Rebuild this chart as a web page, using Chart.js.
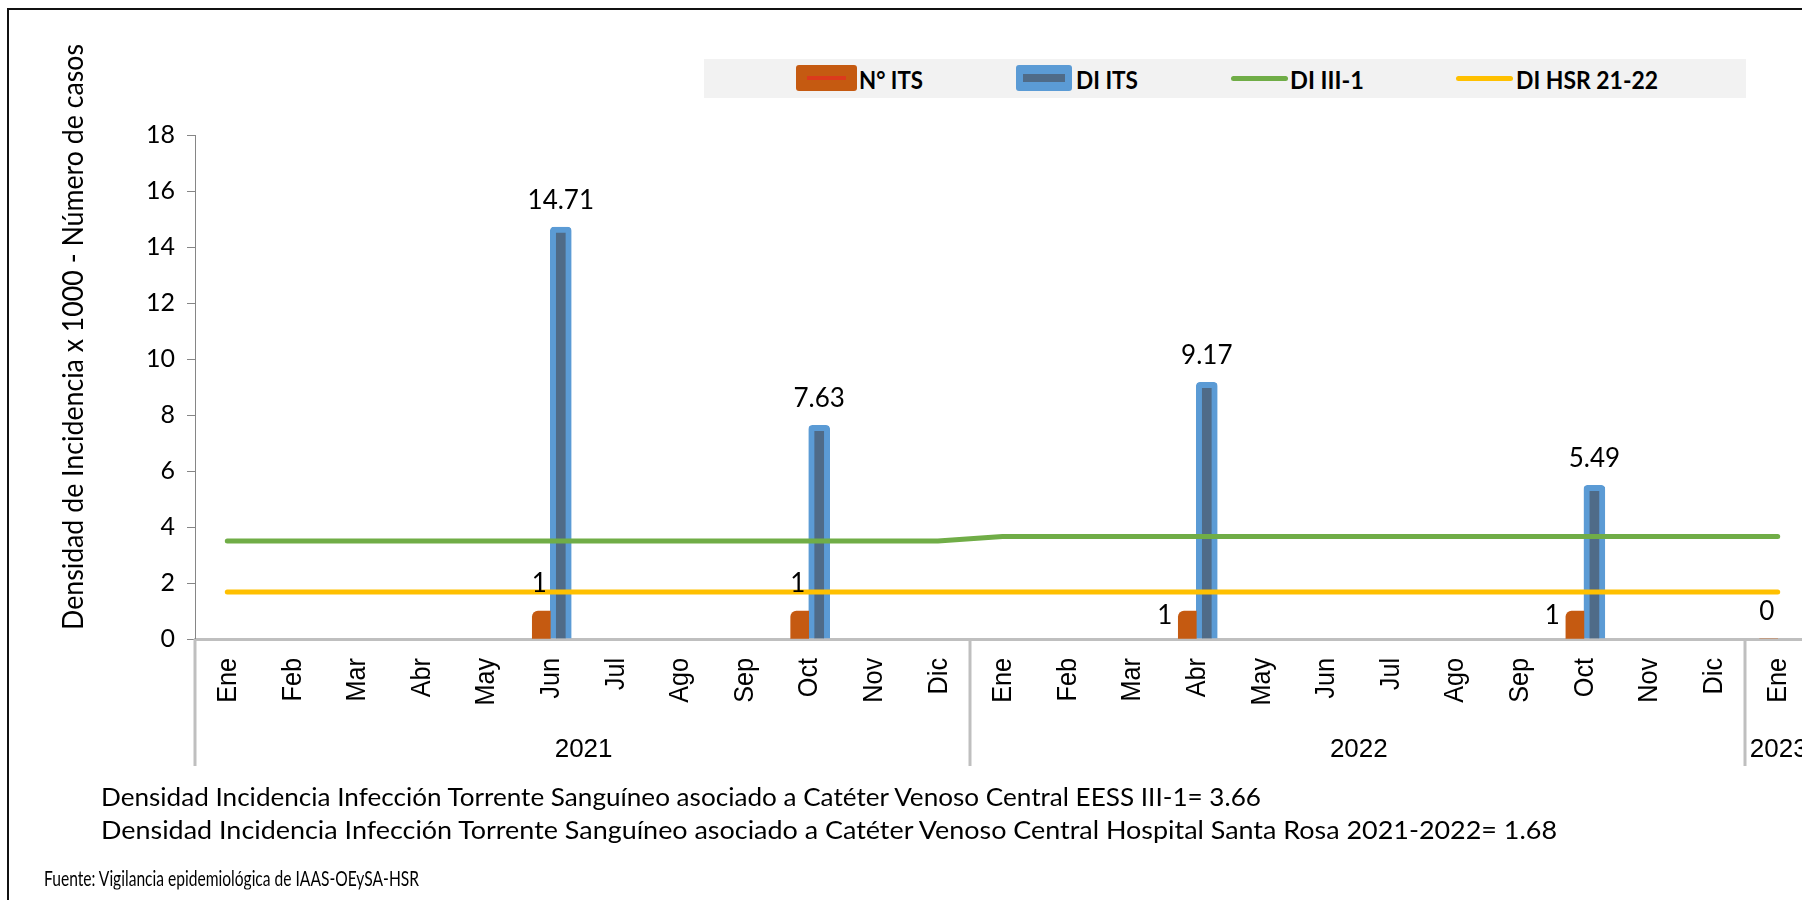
<!DOCTYPE html>
<html>
<head>
<meta charset="utf-8">
<script src="https://cdn.jsdelivr.net/npm/chart.js@4.4.1/dist/chart.umd.min.js"></script>
<style>
html,body{margin:0;padding:0;width:1802px;height:900px;overflow:hidden;background:#fff;}
#wrap{position:relative;width:1802px;height:900px;overflow:hidden;background:#fff;}
#c{position:absolute;left:0;top:0;}
#frame{position:absolute;left:7px;top:8px;width:2000px;height:2000px;border-left:2px solid #111;border-top:2px solid #111;box-sizing:border-box;pointer-events:none;}
#legend{position:absolute;left:704px;top:59px;width:1042px;height:39px;background:#f2f2f2;}
.lg-text{position:absolute;top:50%;font-family:Lato,sans-serif;font-weight:bold;font-size:25px;color:#000;white-space:nowrap;line-height:1;transform-origin:left center;}
.lg-mark{position:absolute;}
.note{position:absolute;font-family:Lato,sans-serif;color:#000;white-space:nowrap;line-height:1;transform-origin:left center;}
</style>
</head>
<body>
<div id="wrap">
  <canvas id="c" width="1830" height="900" style="width:1830px;height:900px"></canvas>
  <div id="frame"></div>
  <div id="legend"></div>
  <div class="note" id="n1" style="left:101px;top:797px;font-size:25.5px"></div>
  <div class="note" id="n2" style="left:101px;top:830px;font-size:25.5px"></div>
  <div class="note" id="n3" style="left:44px;top:877px;font-size:21px"></div>
</div>
<script>
// ---- data ----
const months = ['Ene','Feb','Mar','Abr','May','Jun','Jul','Ago','Sep','Oct','Nov','Dic',
                'Ene','Feb','Mar','Abr','May','Jun','Jul','Ago','Sep','Oct','Nov','Dic',
                'Ene'];
const years = ['2021','2022','2023'];
const monthsPerYear = [12, 12, 1];
const nITS  = [null,null,null,null,null,1,null,null,null,1,null,null,
               null,null,null,1,null,null,null,null,null,1,null,null,
               0];
const diITS = [null,null,null,null,null,14.71,null,null,null,7.63,null,null,
               null,null,null,9.17,null,null,null,null,null,5.49,null,null,
               null];
const diIII1 = [3.5,3.5,3.5,3.5,3.5,3.5,3.5,3.5,3.5,3.5,3.5,3.5,
                3.66,3.66,3.66,3.66,3.66,3.66,3.66,3.66,3.66,3.66,3.66,3.66,
                3.66];
const diHSR = [1.68,1.68,1.68,1.68,1.68,1.68,1.68,1.68,1.68,1.68,1.68,1.68,
               1.68,1.68,1.68,1.68,1.68,1.68,1.68,1.68,1.68,1.68,1.68,1.68,
               1.68];
const yTicksMin = 0, yTicksMax = 18, yTicksStep = 2;
const seriesNames = ['N° ITS', 'DI ITS', 'DI III-1', 'DI HSR 21-22'];
const yTitle = 'Densidad de Incidencia x 1000 - Número de casos';
const notes = [
  'Densidad Incidencia Infección Torrente Sanguíneo asociado a Catéter Venoso Central EESS III-1= 3.66',
  'Densidad Incidencia Infección Torrente Sanguíneo asociado a Catéter Venoso Central Hospital Santa Rosa 2021-2022= 1.68',
  'Fuente: Vigilancia epidemiológica de IAAS-OEySA-HSR'
];

// ---- styles ----
const C_ORANGE = '#c55a11', C_BLUE = '#5b9bd5', C_BLUE_IN = '#4f6b88', C_GREEN = '#70ad47', C_YELLOW = '#ffc000';
const countLabelSide = {15: 'left', 21: 'left'}; // default: above

// horizontally condense text to a target width (Calibri-like proportions)
function fitWidth(el, target) {
  const w = el.getBoundingClientRect().width;
  if (w > 0) el.style.transform = 'translateY(-50%) scaleX(' + (target / w).toFixed(4) + ')';
}

// ---- notes ----
['n1','n2','n3'].forEach((id, i) => { document.getElementById(id).textContent = notes[i]; });
const noteTargets = {n1: 1160, n2: 1456, n3: 375};
Object.keys(noteTargets).forEach(id => fitWidth(document.getElementById(id), noteTargets[id]));

// ---- legend ----
const lg = document.getElementById('legend');
const legendMarkX = [92, 312, 527, 752];
const legendTextX = [155, 372, 586, 812];
const legendTextW = [64, 62, 74, 142];
seriesNames.forEach((name, i) => {
  const m = document.createElement('div');
  m.className = 'lg-mark';
  if (i === 0) {
    Object.assign(m.style, {left: legendMarkX[i]+'px', top:'6px', width:'61px', height:'26px', background:C_ORANGE, borderRadius:'3px'});
    const d = document.createElement('div');
    Object.assign(d.style, {position:'absolute', left:'11px', top:'11px', width:'39px', height:'4px', background:'#dc3a1c'});
    m.appendChild(d);
  } else if (i === 1) {
    Object.assign(m.style, {left: legendMarkX[i]+'px', top:'6px', width:'56px', height:'26px', background:C_BLUE, borderRadius:'3px'});
    const d = document.createElement('div');
    Object.assign(d.style, {position:'absolute', left:'7px', top:'9px', width:'42px', height:'8px', background:C_BLUE_IN});
    m.appendChild(d);
  } else {
    Object.assign(m.style, {left: legendMarkX[i]+'px', top:'17px', width:'57px', height:'5px', background: i===2 ? C_GREEN : C_YELLOW, borderRadius:'3px'});
  }
  lg.appendChild(m);
  const t = document.createElement('div');
  t.className = 'lg-text';
  t.style.left = legendTextX[i] + 'px';
  t.textContent = name;
  lg.appendChild(t);
  fitWidth(t, legendTextW[i]);
});

// ---- custom drawing plugin ----
const extras = {
  id: 'extras',
  afterDraw(chart) {
    const ctx = chart.ctx, xs = chart.scales.x, area = chart.chartArea;
    const step = xs.getPixelForValue(1) - xs.getPixelForValue(0);
    ctx.save();
    // month labels (condensed, rotated)
    ctx.fillStyle = '#000';
    ctx.font = '28px "Liberation Sans", Arial, sans-serif';
    ctx.textAlign = 'right';
    ctx.textBaseline = 'middle';
    months.forEach((m, i) => {
      ctx.save();
      ctx.translate(xs.getPixelForValue(i) + 1, area.bottom + 19);
      ctx.rotate(-Math.PI / 2);
      ctx.scale(0.9, 1);
      ctx.fillText(m, 0, 0);
      ctx.restore();
    });
    // category group separators + year labels
    ctx.strokeStyle = '#bfbfbf';
    ctx.lineWidth = 3;
    let b = 0;
    const bounds = [0];
    monthsPerYear.forEach(n => { b += n; bounds.push(b); });
    bounds.forEach(bi => {
      const px = Math.round(xs.getPixelForValue(bi) - step / 2);
      ctx.beginPath();
      ctx.moveTo(px, area.bottom);
      ctx.lineTo(px, area.bottom + 127);
      ctx.stroke();
    });
    ctx.font = '26px "Liberation Sans", Arial, sans-serif';
    ctx.textAlign = 'center';
    ctx.textBaseline = 'middle';
    years.forEach((y, i) => {
      const l = xs.getPixelForValue(bounds[i]) - step / 2;
      const r = xs.getPixelForValue(bounds[i + 1]) - step / 2;
      ctx.fillText(y, (l + r) / 2 + 1, area.bottom + 111);
    });
    // y axis title
    ctx.save();
    ctx.translate(74, 337);
    ctx.rotate(-Math.PI / 2);
    ctx.font = '28px Lato, sans-serif';
    const tw = ctx.measureText(yTitle).width;
    ctx.scale(586 / tw, 1);
    ctx.textAlign = 'center';
    ctx.textBaseline = 'middle';
    ctx.fillText(yTitle, 0, 0);
    ctx.restore();
    // data labels
    ctx.font = '26px Lato, sans-serif';
    ctx.textBaseline = 'alphabetic';
    const mBlue = chart.getDatasetMeta(1);
    mBlue.data.forEach((el, i) => {
      if (diITS[i] === null) return;
      ctx.textAlign = 'center';
      ctx.fillText(diITS[i].toFixed(2), el.x, el.y - 18);
    });
    const mOr = chart.getDatasetMeta(0);
    mOr.data.forEach((el, i) => {
      if (nITS[i] === null) return;
      const side = countLabelSide[i] || 'top';
      if (side === 'left') {
        ctx.textAlign = 'right';
        ctx.fillText(String(nITS[i]), el.x - el.width / 2 - 6, el.y + 13);
      } else {
        ctx.textAlign = 'center';
        ctx.fillText(String(nITS[i]), el.x - 2, el.y - 19);
      }
    });
    ctx.restore();
  }
};

new Chart(document.getElementById('c'), {
  data: {
    labels: months,
    datasets: [
      {type: 'bar', label: seriesNames[0], data: nITS, backgroundColor: C_ORANGE, borderWidth: 0,
       borderRadius: {topLeft: 6, topRight: 0, bottomLeft: 0, bottomRight: 0}, barThickness: 18, order: 1},
      {type: 'bar', label: seriesNames[1], data: diITS, backgroundColor: C_BLUE_IN, borderColor: C_BLUE, borderWidth: 6,
       borderRadius: 4, barThickness: 21, order: 1},
      {type: 'line', label: seriesNames[2], data: diIII1, borderColor: C_GREEN, borderWidth: 5, pointRadius: 0,
       borderCapStyle: 'round', borderJoinStyle: 'round', tension: 0, order: 0},
      {type: 'line', label: seriesNames[3], data: diHSR, borderColor: C_YELLOW, borderWidth: 5, pointRadius: 0,
       borderCapStyle: 'round', borderJoinStyle: 'round', tension: 0, order: 0}
    ]
  },
  options: {
    responsive: false,
    animation: false,
    devicePixelRatio: 1,
    layout: {padding: {left: 0, top: 135, right: 20, bottom: 0}},
    plugins: {legend: {display: false}, tooltip: {enabled: false}},
    scales: {
      x: {
        type: 'category',
        offset: true,
        grid: {display: false, drawTicks: false},
        border: {display: true, color: '#bfbfbf', width: 3},
        ticks: {display: false, autoSkip: false},
        afterFit(s) { s.height = 261; }
      },
      y: {
        min: yTicksMin, max: yTicksMax,
        grid: {drawOnChartArea: false, drawTicks: true, tickLength: 8, color: '#868686', lineWidth: 1},
        border: {display: true, color: '#868686', width: 1},
        ticks: {stepSize: yTicksStep, color: '#000', font: {family: 'Lato, sans-serif', size: 25}, padding: 12},
        afterFit(s) { s.width = 195; }
      }
    }
  },
  plugins: [extras]
});
</script>
</body>
</html>
